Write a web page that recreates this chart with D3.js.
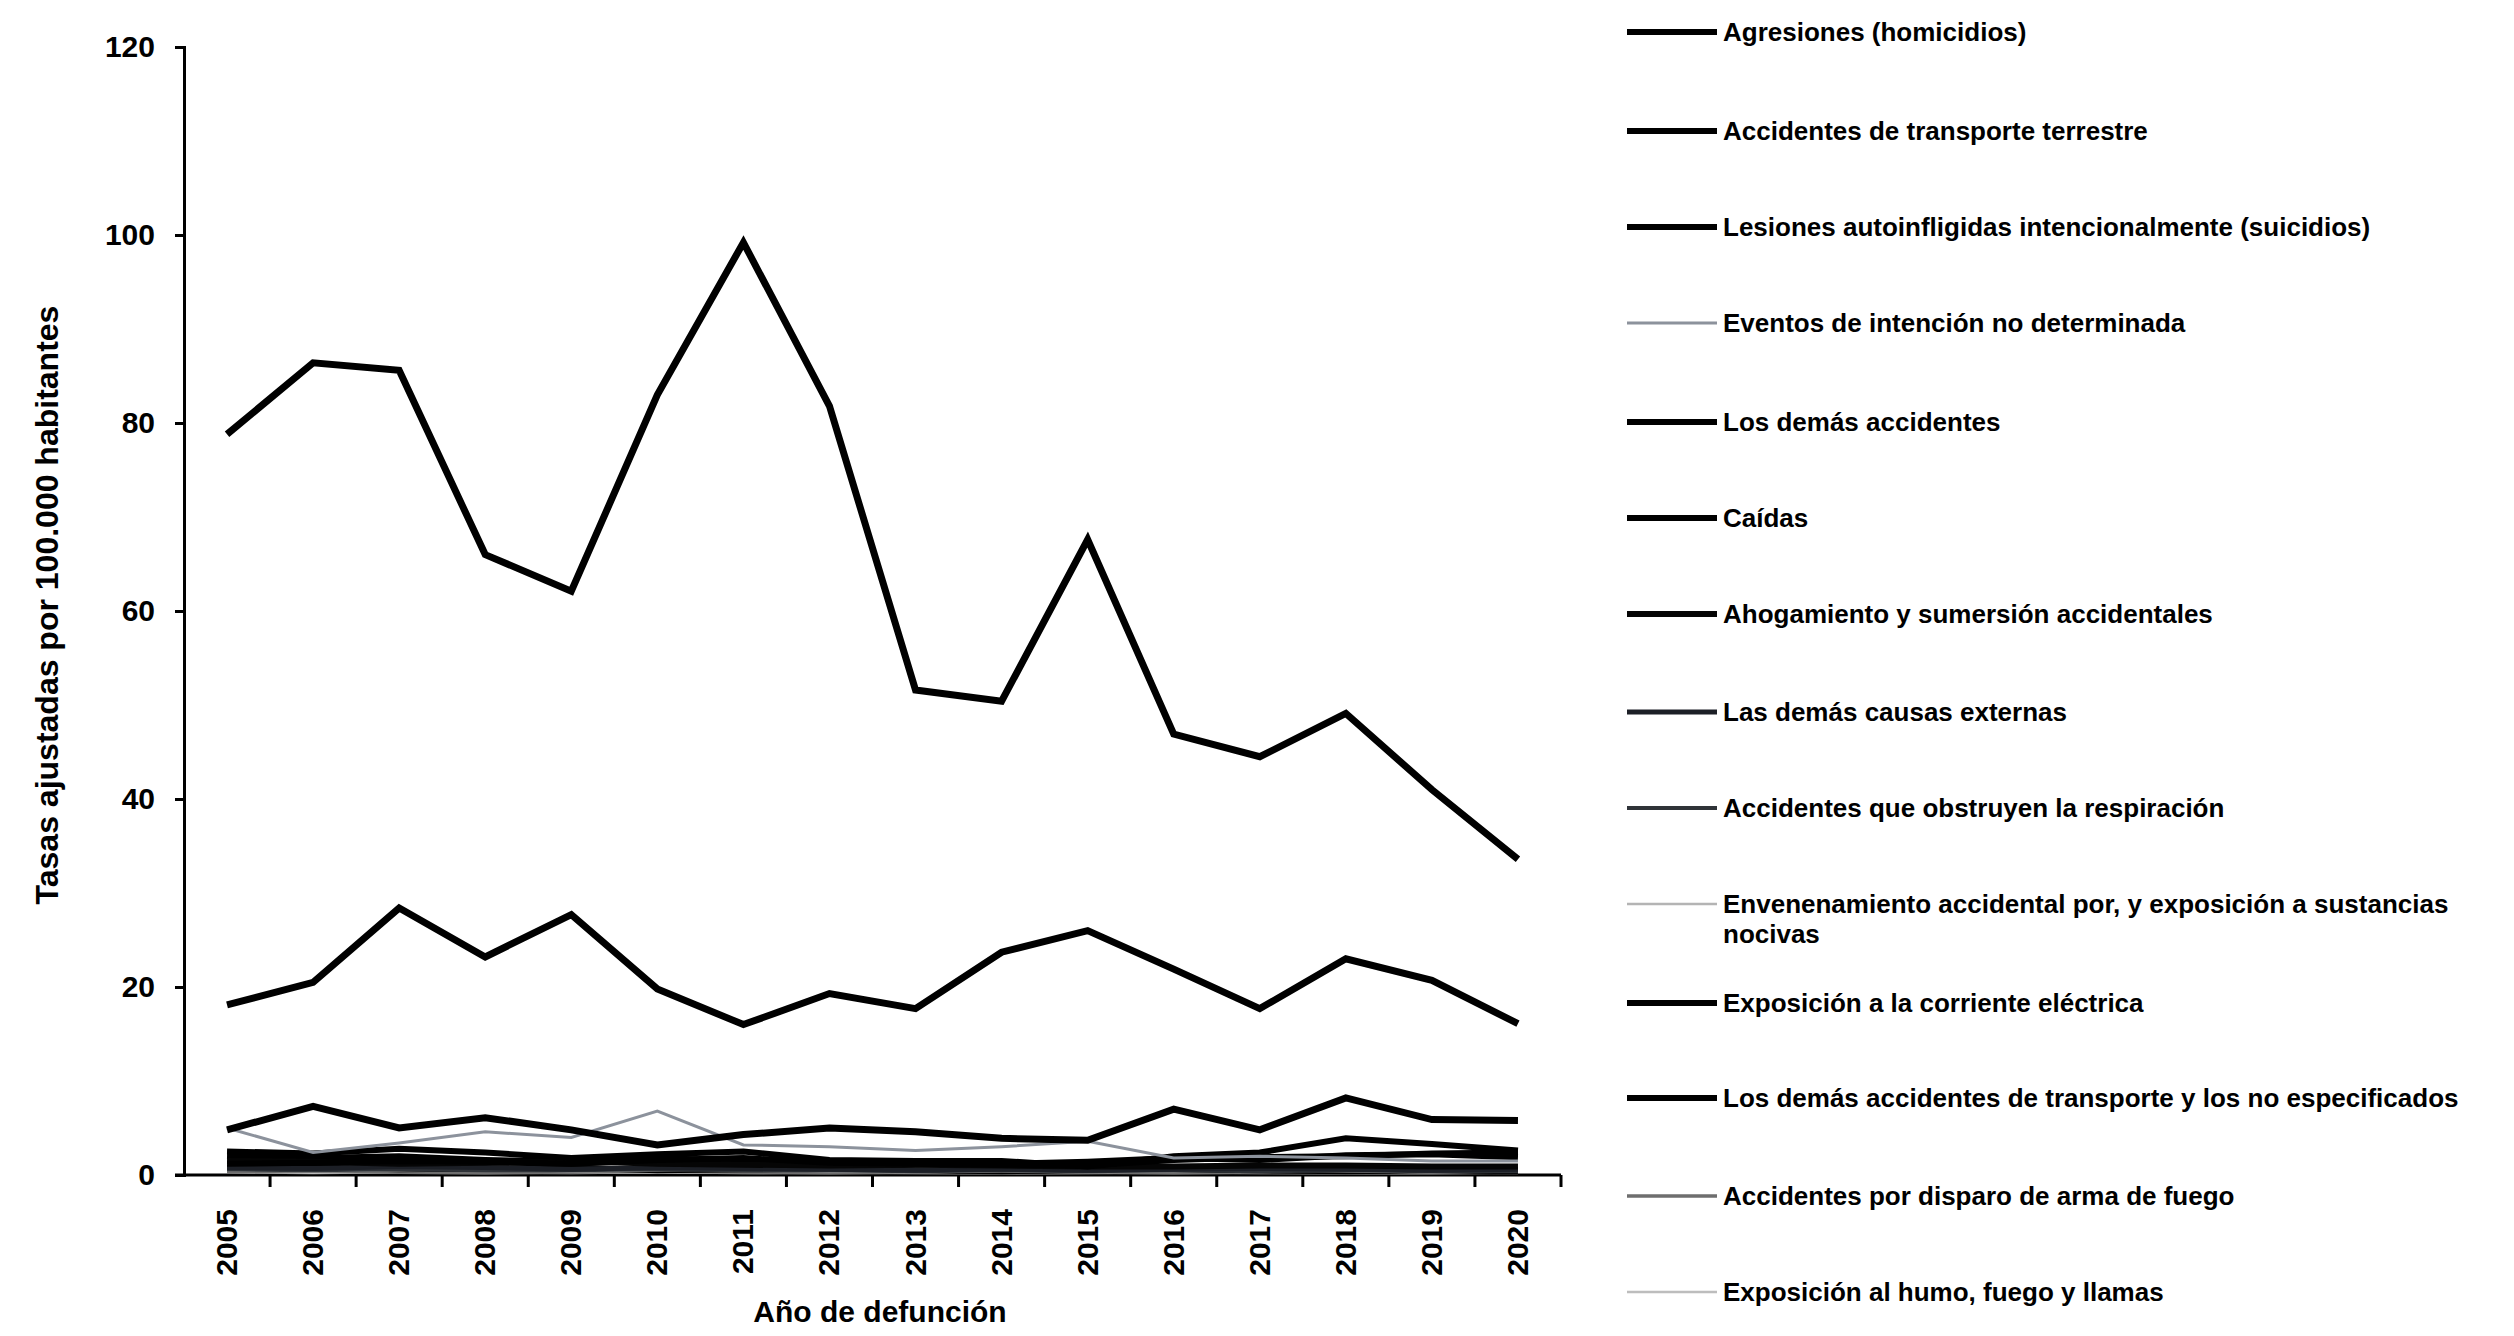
<!DOCTYPE html>
<html>
<head>
<meta charset="utf-8">
<script src="https://cdn.jsdelivr.net/npm/d3@7"></script>
<style>
  body { margin: 0; background: #fff; }
  #chart text { font-family: "Liberation Sans", Arial, sans-serif; font-weight: bold; fill: #000; }
</style>
</head>
<body>
<div id="chart"></div>
<script>
// Years and series (tasas ajustadas por 100.000 habitantes)
const years = ["2005","2006","2007","2008","2009","2010","2011","2012","2013","2014","2015","2016","2017","2018","2019","2020"];
const yTicks = [0, 20, 40, 60, 80, 100, 120];

const agresiones        = [78.8, 86.4, 85.6, 66.0, 62.1, 83.0, 99.2, 81.8, 51.6, 50.4, 67.6, 46.9, 44.5, 49.1, 41.0, 33.6];
const transporte        = [18.1, 20.5, 28.4, 23.2, 27.7, 19.8, 16.0, 19.3, 17.7, 23.7, 26.0, 21.9, 17.7, 23.0, 20.7, 16.1];
const suicidios         = [4.8, 7.3, 5.0, 6.1, 4.8, 3.2, 4.3, 5.0, 4.6, 3.9, 3.7, 7.0, 4.8, 8.2, 5.9, 5.8];
const eventos           = [5.0, 2.4, 3.4, 4.6, 4.0, 6.8, 3.2, 3.0, 2.6, 3.0, 3.6, 1.8, 2.0, 1.8, 1.5, 1.5];
const demasAccidentes   = [2.5, 2.3, 2.8, 2.4, 1.8, 2.2, 2.5, 1.6, 1.5, 1.5, 0.9, 2.0, 2.4, 3.9, 3.3, 2.6];
const caidas            = [1.2, 1.3, 1.5, 1.4, 1.2, 1.6, 1.8, 1.3, 1.2, 1.1, 1.0, 1.6, 1.9, 2.0, 2.3, 2.4];
const ahogamiento       = [1.5, 1.4, 1.2, 1.3, 1.5, 1.2, 1.1, 1.0, 1.1, 1.0, 0.9, 0.9, 1.0, 1.0, 0.9, 0.9];
const demasCausas       = [0.8, 0.7, 0.9, 0.8, 0.6, 0.8, 0.7, 0.6, 0.5, 0.6, 0.5, 0.6, 0.7, 0.6, 0.5, 0.6];
const obstruyen         = [0.6, 0.5, 0.6, 0.5, 0.5, 0.6, 0.5, 0.5, 0.4, 0.5, 0.4, 0.5, 0.4, 0.5, 0.4, 0.4];
const envenenamiento    = [0.5, 0.4, 0.5, 0.6, 0.4, 0.5, 0.6, 0.4, 0.3, 0.4, 0.3, 0.4, 0.5, 0.4, 0.3, 0.4];
const electrica         = [0.7, 0.8, 0.6, 0.7, 0.8, 0.5, 0.6, 0.7, 0.5, 0.4, 0.5, 0.6, 0.5, 0.4, 0.5, 0.4];
const otrosTransporte   = [2.0, 1.8, 2.0, 1.6, 1.4, 1.8, 1.5, 1.2, 1.3, 1.2, 1.4, 1.8, 1.6, 2.1, 2.2, 1.9];
const disparo           = [0.3, 0.4, 0.3, 0.2, 0.3, 0.4, 0.3, 0.2, 0.3, 0.2, 0.3, 0.2, 0.3, 0.2, 0.2, 0.3];
const humo              = [0.3, 0.2, 0.3, 0.3, 0.2, 0.3, 0.2, 0.3, 0.2, 0.2, 0.2, 0.3, 0.2, 0.2, 0.3, 0.2];

const seriesNames = [
  "Agresiones (homicidios)",
  "Accidentes de transporte terrestre",
  "Lesiones autoinfligidas intencionalmente (suicidios)",
  "Eventos de intención no determinada",
  "Los demás accidentes",
  "Caídas",
  "Ahogamiento y sumersión accidentales",
  "Las demás causas externas",
  "Accidentes que obstruyen la respiración",
  "Envenenamiento accidental por, y exposición a sustancias nocivas",
  "Exposición a la corriente eléctrica",
  "Los demás accidentes de transporte y los no especificados",
  "Accidentes por disparo de arma de fuego",
  "Exposición al humo, fuego y llamas"
];
const seriesValues = [agresiones, transporte, suicidios, eventos, demasAccidentes, caidas, ahogamiento,
  demasCausas, obstruyen, envenenamiento, electrica, otrosTransporte, disparo, humo];
const seriesColors = ["#000", "#000", "#000", "#8c929c", "#000", "#000", "#050505",
  "#1c1f26", "#2f3338", "#b4b4b4", "#000", "#000", "#6e6e6e", "#bdbdbd"];
const seriesWidths = [7, 7, 7, 3, 6, 6, 6, 5, 4, 2.5, 6, 6, 3.5, 2.5];

const config = {
  width  : 2514,
  height : 1336,
  left   : 184,
  right  : 1561,
  top    : 47,
  bottom : 1175
};

const svg = d3.select("#chart")
  .append("svg")
    .attr("width", config.width)
    .attr("height", config.height);

const x = d3.scaleBand()
  .domain(years)
  .range([config.left, config.right]);

const y = d3.scaleLinear()
  .domain([0, 120])
  .range([config.bottom, config.top]);

// Y axis
const yAxis = svg.append("g")
  .attr("transform", "translate(" + config.left + ",0)")
  .call(d3.axisLeft(y).tickValues(yTicks).tickSize(9).tickPadding(20));
yAxis.select(".domain").attr("stroke", "#000").attr("stroke-width", 3);
yAxis.selectAll(".tick line").attr("stroke", "#000").attr("stroke-width", 3);
yAxis.selectAll(".tick text").style("font-size", "30px");

// X axis: ticks on band boundaries, labels at band centres
const xAxis = svg.append("g")
  .attr("transform", "translate(0," + config.bottom + ")");
xAxis.append("line")
  .attr("x1", config.left - 9).attr("x2", config.right)
  .attr("stroke", "#000").attr("stroke-width", 3);
xAxis.selectAll(".xtick")
  .data(years)
  .enter().append("line")
    .attr("class", "xtick")
    .attr("x1", d => x(d) + x.bandwidth())
    .attr("x2", d => x(d) + x.bandwidth())
    .attr("y1", 0).attr("y2", 12)
    .attr("stroke", "#000").attr("stroke-width", 3);
xAxis.selectAll(".xlabel")
  .data(years)
  .enter().append("text")
    .attr("class", "xlabel")
    .attr("transform", d => "translate(" + (x(d) + x.bandwidth() / 2 + 10) + ",34) rotate(-90)")
    .attr("text-anchor", "end")
    .style("font-size", "30px")
    .text(d => d);

// Axis titles
svg.append("text")
  .attr("x", 880).attr("y", 1322)
  .attr("text-anchor", "middle")
  .style("font-size", "30px")
  .text("Año de defunción");

svg.append("text")
  .attr("transform", "translate(58,605) rotate(-90)")
  .attr("text-anchor", "middle")
  .style("font-size", "32px")
  .text("Tasas ajustadas por 100.000 habitantes");

// Lines (first series drawn last so it sits on top)
const line = d3.line()
  .x((d, i) => x(years[i]) + x.bandwidth() / 2)
  .y(d => y(d))
  .curve(d3.curveLinear);

const order = d3.range(seriesNames.length).reverse();
svg.append("g").selectAll("path")
  .data(order)
  .enter().append("path")
    .attr("d", i => line(seriesValues[i]))
    .attr("fill", "none")
    .attr("stroke", i => seriesColors[i])
    .attr("stroke-width", i => seriesWidths[i])
    .attr("stroke-linejoin", "miter");

// Legend
const legendY = [32, 131, 227, 323, 422, 518, 614, 712, 808, 904, 1003, 1098, 1196, 1292];
const legend = svg.append("g");
const items = legend.selectAll("g")
  .data(seriesNames)
  .enter().append("g")
    .attr("transform", (d, i) => "translate(1627," + legendY[i] + ")");
items.append("line")
  .attr("x1", 0).attr("x2", 90)
  .attr("stroke", (d, i) => seriesColors[i])
  .attr("stroke-width", (d, i) => Math.min(seriesWidths[i], 6));
items.append("text")
  .attr("x", 96)
  .attr("dy", "0.35em")
  .style("font-size", "26px")
  .each(function(d, i) {
    const t = d3.select(this);
    if (i === 9) {
      t.append("tspan").attr("x", 96).text("Envenenamiento accidental por, y exposición a sustancias");
      t.append("tspan").attr("x", 96).attr("dy", "1.15em").text("nocivas");
    } else {
      t.text(d);
    }
  });
</script>
</body>
</html>
